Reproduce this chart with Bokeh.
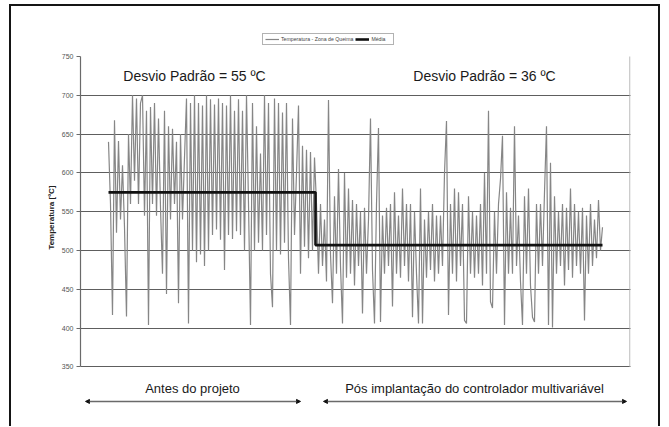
from bokeh.plotting import figure
from bokeh.models import (Range1d, FixedTicker, Arrow, NormalHead, Grid,
                          Legend, LegendItem, Title)
from bokeh.core.properties import value
from bokeh.embed import file_html
from bokeh.resources import INLINE

# --- data ---
temp_before = [
    640, 560, 417, 668, 523, 641, 540, 610, 530, 415,
    650, 560, 700, 590, 696, 560, 690, 700, 545, 680,
    404, 685, 560, 690, 545, 670, 555, 470, 680, 444,
    660, 540, 657, 560, 640, 432, 650, 540, 620, 696,
    406, 690, 500, 700, 485, 690, 495, 687, 480, 700,
    500, 695, 520, 688, 527, 696, 514, 690, 475, 687,
    520, 700, 515, 680, 525, 695, 520, 680, 500, 700,
    560, 404, 690, 500, 660, 510, 625, 500, 700, 520,
    690, 470, 427, 696, 500, 690, 495, 678, 510, 690,
    490, 404, 670, 520, 600, 687, 470, 635, 505, 630,
    490, 627, 500, 620,
]
temp_after = [
    560, 470, 560, 480, 540, 460, 694, 495, 432, 570,
    470, 605, 480, 406, 600, 465, 580, 470, 565, 455,
    560, 480, 550, 419, 555, 470, 540, 670, 475, 406,
    560, 658, 408, 545, 470, 555, 480, 560, 428, 575,
    470, 545, 465, 580, 480, 560, 460, 560, 414, 550,
    470, 406, 580, 406, 540, 465, 550, 475, 560, 460,
    545, 470, 545, 480, 600, 667, 417, 560, 470, 580,
    460, 575, 480, 560, 410, 406, 570, 470, 550, 465,
    545, 470, 560, 455, 600, 470, 680, 434, 426, 550,
    470, 560, 592, 648, 404, 575, 470, 555, 470, 660,
    480, 545, 460, 404, 570, 470, 580, 455, 414, 408,
    560, 470, 560, 480, 575, 660, 404, 613, 401, 570,
    470, 550, 480, 560, 455, 555, 475, 580, 465, 560,
    480, 550, 470, 555, 410, 545, 470, 560, 480, 540,
    490, 565, 500, 530,
]
mean_before = 575
mean_after = 507
y_ticks = [350, 400, 450, 500, 550, 600, 650, 700, 750]
grid_ticks = [350, 400, 450, 500, 550, 600, 650, 700]

series_label = "Temperatura - Zona de Queima"
mean_label = "Média"
note_before = "Desvio Padrão = 55 ºC"
note_after = "Desvio Padrão = 36 ºC"
period_labels = ["Antes do projeto", "Pós implantação do controlador multivariável"]
y_title = "Temperatura [ºC]"

temperature = temp_before + temp_after
idx = list(range(len(temperature)))
mean = [mean_before] * len(temp_before) + [mean_after] * len(temp_after)

FONT = "Liberation Sans"
X0, X1 = -14, 261
Y_LOW, Y_HIGH = 273.3, 783.5

# outer page frame (left, right and top rules) painted as the element background
K = "linear-gradient(#151515,#151515)"
frame_bg = (f"{K} 9px 4px / 2px 100% no-repeat, "
            f"{K} 658px 4px / 2px 100% no-repeat, "
            f"{K} 9px 4px / 651px 2px no-repeat, white")

p = figure(width=660, height=426, output_backend="svg", toolbar_location=None,
           x_range=Range1d(X0, X1), y_range=Range1d(Y_LOW, Y_HIGH),
           x_axis_location=None,
           min_border_left=80, min_border_right=30, min_border_top=30,
           min_border_bottom=0,
           styles={"background": frame_bg})
p.background_fill_alpha = 0
p.border_fill_alpha = 0
p.outline_line_color = None

# plot-area decorations: light top and right edges
p.add_layout(Grid(dimension=1, ticker=FixedTicker(ticks=[750]),
                  grid_line_color="#ababab", grid_line_width=1))
p.segment(x0=[X1 - 0.3], y0=[350], x1=[X1 - 0.3], y1=[750],
          line_color="#ababab", line_width=1)

r_temp = p.line(idx, temperature, line_color="#868686", line_width=1.2)
r_mean = p.step(idx, mean, mode="center", line_color="#111111", line_width=2.6)

p.xgrid.visible = False
p.ygrid.ticker = FixedTicker(ticks=grid_ticks)
p.ygrid.grid_line_color = "#5e5e5e"
p.ygrid.grid_line_width = 1.1

ya = p.yaxis[0]
ya.bounds = (350, 750)
ya.ticker = FixedTicker(ticks=y_ticks)
ya.axis_line_color = "#6a6a6a"
ya.axis_line_width = 1.2
ya.major_tick_line_color = "#6a6a6a"
ya.major_tick_out = 4
ya.major_tick_in = 0
ya.minor_tick_line_color = None
ya.major_label_standoff = 3
ya.major_label_text_font = FONT
ya.major_label_text_font_size = "7px"
ya.major_label_text_color = "#555555"

# y-axis title placed beside the 350-750 span
p.add_layout(Title(text=y_title, align="right", offset=155, standoff=5,
                   text_font=FONT, text_font_size="8px", text_font_style="bold",
                   text_color="#222222"), "left")

legend = Legend(items=[LegendItem(label=series_label, renderers=[r_temp]),
                       LegendItem(label=mean_label, renderers=[r_mean])],
                orientation="horizontal", location=(182, 381))
legend.label_text_font = FONT
legend.label_text_font_size = "5.2px"
legend.label_text_color = "#444444"
legend.glyph_width = 14
legend.glyph_height = 6
legend.label_standoff = 2
legend.label_height = 6
legend.spacing = 2
legend.padding = 2
legend.margin = 0
legend.border_line_color = "#666666"
legend.border_line_width = 1
legend.background_fill_alpha = 1
p.add_layout(legend)

# standard-deviation notes (inside the plot area)
p.text(x=[43, 188], y=[725, 725], text=[note_before, note_after],
       text_font=value(FONT), text_font_size="14px", text_color="#1a1a1a",
       text_align="center", text_baseline="middle")

# period captions and arrows below the axis
p.text(x=[42, 183], y=[322.3, 322.3], text=period_labels,
       text_font=value(FONT), text_font_size="13px", text_color="#1a1a1a",
       text_align="center", text_baseline="middle")
for xs, xe in [(-11.5, 96), (107.5, 259)]:
    p.add_layout(Arrow(x_start=xs, y_start=305.6, x_end=xe, y_end=305.6,
                       line_color="#6a6a6a", line_width=1.5,
                       start=NormalHead(size=4, fill_color="#111", line_color="#111"),
                       end=NormalHead(size=4, fill_color="#111", line_color="#111")))

open("out.html", "w").write(file_html(p, INLINE))
